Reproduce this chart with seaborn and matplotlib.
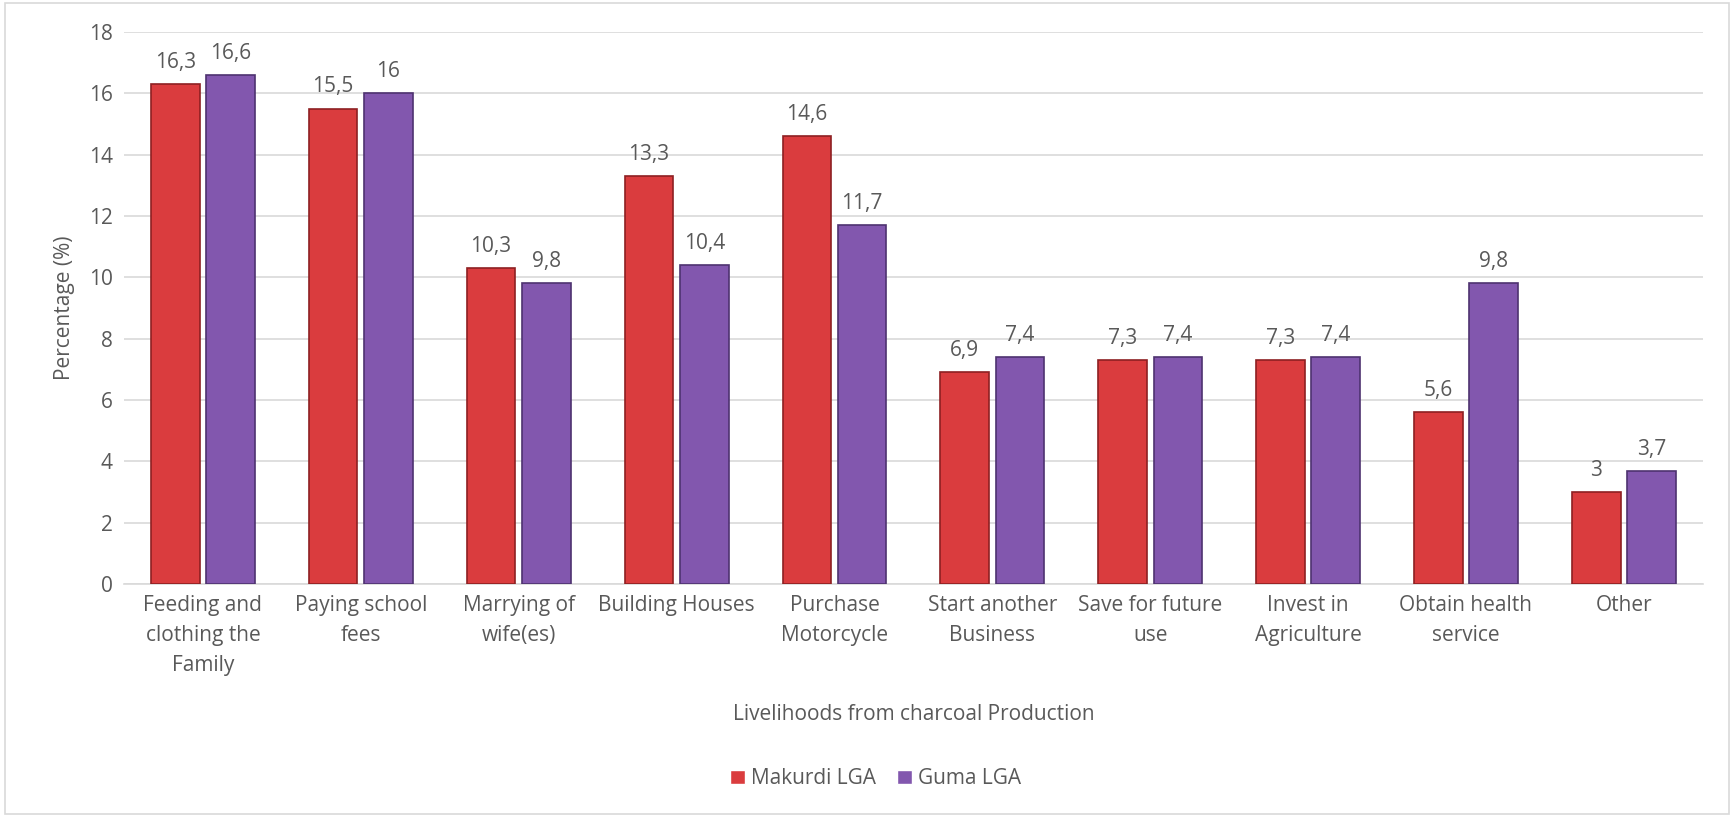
import pandas as pd
import matplotlib.pyplot as plt
import seaborn as sns
from matplotlib.patches import Rectangle

# data
categories = ['Feeding and\nclothing the\nFamily', 'Paying school\nfees', 'Marrying of\nwife(es)',
              'Building Houses', 'Purchase\nMotorcycle', 'Start another\nBusiness',
              'Save for future\nuse', 'Invest in\nAgriculture', 'Obtain health\nservice', 'Other']
makurdi = [16.3, 15.5, 10.3, 13.3, 14.6, 6.9, 7.3, 7.3, 5.6, 3]
guma = [16.6, 16, 9.8, 10.4, 11.7, 7.4, 7.4, 7.4, 9.8, 3.7]
series = ['Makurdi LGA', 'Guma LGA']
colors = ['#DA3C3E', '#8257AE']
edges = ['#8E2022', '#4E3270']

df = pd.DataFrame({
    'cat': categories * 2,
    'val': makurdi + guma,
    'lga': [series[0]] * len(categories) + [series[1]] * len(categories),
})

sns.set_style('white')
plt.rcParams['font.family'] = ['Open Sans', 'DejaVu Sans']
txt = '#595959'

fig = plt.figure(figsize=(17.34, 8.17), dpi=100)
ax = fig.add_axes([0.0715, 0.285, 0.9105, 0.676])

sns.barplot(data=df, x='cat', y='val', hue='lga', palette=colors, width=0.7, gap=0.12,
            ax=ax, zorder=3, legend=True, saturation=1)

for i, cont in enumerate(ax.containers):
    for bar in cont:
        bar.set_edgecolor(edges[i])
        bar.set_linewidth(1.2)
    ax.bar_label(cont, labels=[f'{v:g}'.replace('.', ',') for v in cont.datavalues],
                 padding=8, fontsize=15, color=txt)

ax.set_ylim(0, 18)
ax.set_yticks(range(0, 19, 2))
ax.set_xlim(-0.5, len(categories) - 0.5)
ax.yaxis.grid(True, color='#D9D9D9', linewidth=1.2, zorder=0)
for s in ['top', 'right', 'left']:
    ax.spines[s].set_visible(False)
ax.spines['bottom'].set_color('#D9D9D9')
ax.spines['bottom'].set_linewidth(1.2)
ax.tick_params(axis='both', length=0, labelsize=15, colors=txt, pad=8)
for lbl in ax.get_xticklabels():
    lbl.set_linespacing(1.55)
ax.set_ylabel('Percentage (%)', fontsize=15, color=txt, labelpad=10)
ax.set_xlabel('Livelihoods from charcoal Production', fontsize=15, color=txt, labelpad=20)

handles, labels = ax.get_legend_handles_labels()
ax.legend_.remove()
fig.legend(handles, labels, loc='center', bbox_to_anchor=(0.505, 0.047), ncol=2, frameon=False,
           fontsize=15, labelcolor=txt, handlelength=0.7, handleheight=0.7,
           handletextpad=0.3, columnspacing=1.0)

fig.patches.append(Rectangle((0.003, 0.004), 0.994, 0.992, transform=fig.transFigure,
                             fill=False, edgecolor='#D9D9D9', linewidth=1.2))

fig.savefig('out.png', dpi=100)
